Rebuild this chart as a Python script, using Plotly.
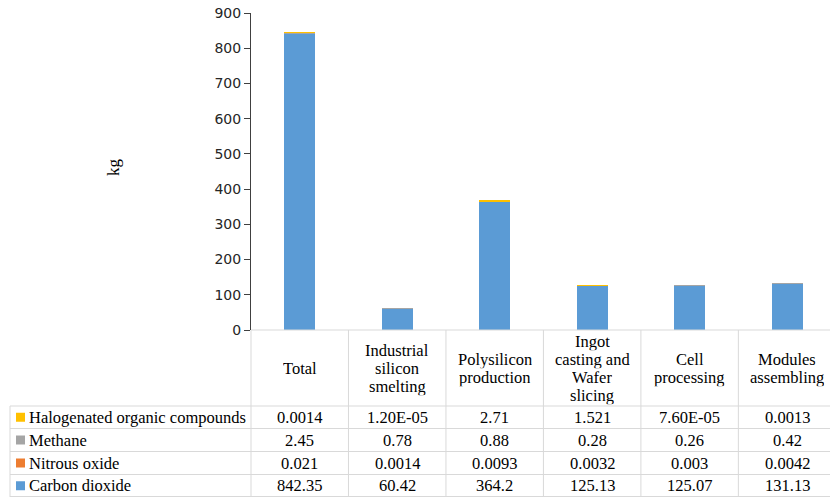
import plotly.graph_objects as go

# Life-cycle greenhouse gas emissions per stage (kg)
stages = ["Total", "Industrial silicon smelting", "Polysilicon production",
          "Ingot casting and Wafer slicing", "Cell processing", "Modules assembling"]
stage_labels = [["Total"], ["Industrial", "silicon", "smelting"], ["Polysilicon", "production"],
                ["Ingot", "casting and", "Wafer", "slicing"], ["Cell", "processing"], ["Modules", "assembling"]]

carbon_dioxide = [842.35, 60.42, 364.2, 125.13, 125.07, 131.13]
nitrous_oxide = [0.021, 0.0014, 0.0093, 0.0032, 0.003, 0.0042]
methane = [2.45, 0.78, 0.88, 0.28, 0.26, 0.42]
halogenated = [0.0014, 1.20e-05, 2.71, 1.521, 7.60e-05, 0.0013]

# Text shown in the data table
carbon_dioxide_txt = ["842.35", "60.42", "364.2", "125.13", "125.07", "131.13"]
nitrous_oxide_txt = ["0.021", "0.0014", "0.0093", "0.0032", "0.003", "0.0042"]
methane_txt = ["2.45", "0.78", "0.88", "0.28", "0.26", "0.42"]
halogenated_txt = ["0.0014", "1.20E-05", "2.71", "1.521", "7.60E-05", "0.0013"]

series = [
    ("Carbon dioxide", carbon_dioxide, carbon_dioxide_txt, "#5B9BD5"),
    ("Nitrous oxide", nitrous_oxide, nitrous_oxide_txt, "#ED7D31"),
    ("Methane", methane, methane_txt, "#A5A5A5"),
    ("Halogenated organic compounds", halogenated, halogenated_txt, "#FFC000"),
]

# Canvas geometry (pixels)
WIDTH, HEIGHT = 830, 497
L, R, T, B = 251, 830, 13, 330
PW, PH = R - L, B - T
XR = [-0.5, 5.44]

def fx(p):
    return (p - L) / PW

def fy(p):
    return (B - p) / PH

def col_px(u):
    return L + (u - XR[0]) / (XR[1] - XR[0]) * PW

fig = go.Figure()
for name, vals, _, color in series:
    fig.add_trace(go.Bar(x=list(range(len(stages))), y=vals, name=name,
                         marker=dict(color=color, line=dict(width=0)), width=0.32))

serif = "Liberation Serif, Times New Roman, serif"
FS = 16.5
grid = "#D9D9D9"
shapes = []
annotations = []

def hline(y, x0, x1):
    shapes.append(dict(type="line", xref="paper", yref="paper", x0=fx(x0), x1=fx(x1),
                       y0=fy(y), y1=fy(y), line=dict(color=grid, width=1)))

def vline(x, y0, y1):
    shapes.append(dict(type="line", xref="paper", yref="paper", x0=fx(x), x1=fx(x),
                       y0=fy(y0), y1=fy(y1), line=dict(color=grid, width=1)))

header_bottom = 406
row_edges = [406, 428.5, 451.5, 474.5, 497]

# Table grid
hline(B, L, R + 10)
for y in row_edges[:-1]:
    hline(y, 10, R + 10)
hline(496.5, 10, R + 10)
vline(10, header_bottom, 497)
for i in range(len(stages)):
    vline(col_px(i - 0.5), B, 497)

# Column headers, one annotation per wrapped line with a tight line box
line_h = 18.2
head_mid = (B + header_bottom) / 2
for i, lines in enumerate(stage_labels):
    n = len(lines)
    for k, txt in enumerate(lines):
        yc = head_mid + (k - (n - 1) / 2) * line_h
        annotations.append(dict(x=fx(col_px(i)), y=fy(yc), xref="paper", yref="paper",
                                text=txt, showarrow=False, xanchor="center", yanchor="middle",
                                height=line_h, borderpad=0, valign="middle",
                                font=dict(family=serif, size=FS, color="#000000")))

# Data rows, top row is the last stacked series
for r, (name, vals, txts, color) in enumerate(reversed(series)):
    yc = (row_edges[r] + row_edges[r + 1]) / 2
    shapes.append(dict(type="rect", xref="paper", yref="paper", x0=fx(16), x1=fx(25),
                       y0=fy(yc - 4.5), y1=fy(yc + 4.5), fillcolor=color, line=dict(width=0)))
    annotations.append(dict(x=fx(27), y=fy(yc), xref="paper", yref="paper", text=name,
                            showarrow=False, xanchor="left", yanchor="middle",
                            font=dict(family=serif, size=FS, color="#000000")))
    for i, t in enumerate(txts):
        annotations.append(dict(x=fx(col_px(i)), y=fy(yc), xref="paper", yref="paper", text=t,
                                showarrow=False, xanchor="center", yanchor="middle",
                                font=dict(family=serif, size=FS, color="#000000")))

# Y axis title
annotations.append(dict(x=fx(113), y=fy(167), xref="paper", yref="paper", text="kg",
                        showarrow=False, textangle=-90, xanchor="center", yanchor="middle",
                        font=dict(family=serif, size=17, color="#000000")))

fig.update_layout(
    width=WIDTH, height=HEIGHT,
    margin=dict(l=L, r=WIDTH - R, t=T, b=HEIGHT - B, pad=0),
    barmode="stack", showlegend=False,
    plot_bgcolor="white", paper_bgcolor="white",
    shapes=shapes, annotations=annotations,
    xaxis=dict(range=XR, showticklabels=False, showgrid=False, zeroline=False,
               showline=False, ticks=""),
    yaxis=dict(range=[0, 900], dtick=100, showgrid=False, zeroline=False,
               showline=True, linecolor="#404040", linewidth=1,
               ticks="outside", ticklen=6, tickcolor="#404040",
               tickfont=dict(family="DejaVu Sans", size=14, color="#262626")),
)

fig.write_html("out.html")
